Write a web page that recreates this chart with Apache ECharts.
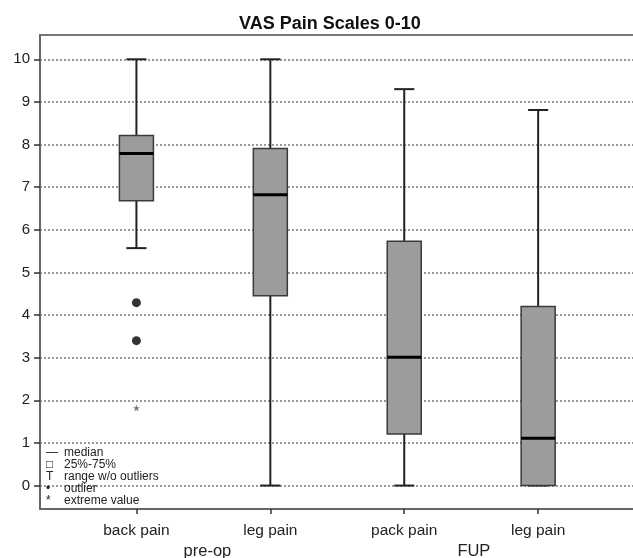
<!DOCTYPE html>
<html>
<head>
<meta charset="utf-8">
<script src="https://cdn.jsdelivr.net/npm/echarts@6/dist/echarts.min.js"></script>
<style>html,body{margin:0;padding:0;background:#fff;}#c{width:633px;height:558px;}</style>
</head>
<body>
<div id="c"></div>
<script>
const categories = ['back pain', 'leg pain', 'pack pain', 'leg pain'];
const groups = ['pre-op', 'FUP'];
const groupPositions = [0.53, 2.52];
const whiskerLow = [5.57, 0, 0, 0];
const q1 = [6.68, 4.45, 1.21, 0];
const median = [7.79, 6.82, 3.01, 1.11];
const q3 = [8.21, 7.91, 5.73, 4.20];
const whiskerHigh = [10, 10, 9.30, 8.81];
const outliers = [[0, 4.29], [0, 3.40]];
const extremes = [[0, 1.82]];
const yTicks = [0, 1, 2, 3, 4, 5, 6, 7, 8, 9, 10];
const catTicks = categories.map((c, i) => i);

const FONT = 'Arial, "Liberation Sans", sans-serif';
const chart = echarts.init(document.getElementById('c'), null, {renderer: 'canvas'});

const boxData = categories.map((c, i) => [i, whiskerLow[i], q1[i], median[i], q3[i], whiskerHigh[i]]);

function renderBox(params, api) {
  const x = api.value(0);
  const band = api.size([1, 0])[0];
  const boxW = band * 0.254;
  const capW = band * 0.15;
  const pLow = api.coord([x, api.value(1)]);
  const pQ1 = api.coord([x, api.value(2)]);
  const pMed = api.coord([x, api.value(3)]);
  const pQ3 = api.coord([x, api.value(4)]);
  const pHigh = api.coord([x, api.value(5)]);
  const cx = pQ1[0];
  const lineStyle = {stroke: '#222', lineWidth: 2};
  return {
    type: 'group',
    children: [
      {type: 'line', shape: {x1: cx, y1: pQ3[1], x2: cx, y2: pHigh[1]}, style: lineStyle},
      {type: 'line', shape: {x1: cx, y1: pQ1[1], x2: cx, y2: pLow[1]}, style: lineStyle},
      {type: 'line', shape: {x1: cx - capW / 2, y1: pHigh[1], x2: cx + capW / 2, y2: pHigh[1]}, style: lineStyle},
      {type: 'line', shape: {x1: cx - capW / 2, y1: pLow[1], x2: cx + capW / 2, y2: pLow[1]}, style: lineStyle},
      {type: 'rect', shape: {x: cx - boxW / 2, y: pQ3[1], width: boxW, height: pQ1[1] - pQ3[1]},
        style: {fill: '#9c9c9c', stroke: '#3a3a3a', lineWidth: 1.5}},
      {type: 'line', shape: {x1: cx - boxW / 2, y1: pMed[1], x2: cx + boxW / 2, y2: pMed[1]},
        style: {stroke: '#000', lineWidth: 3}}
    ]
  };
}

const starPath = 'path://M50,0 L61,35 L98,35 L68,57 L79,91 L50,70 L21,91 L32,57 L2,35 L39,35 Z';

const legendItems = [
  ['—', 'median'],
  ['□', '25%-75%'],
  ['T', 'range w/o outliers'],
  ['•', 'outlier'],
  ['*', 'extreme value']
];

const graphics = [];
legendItems.forEach((it, i) => {
  graphics.push({type: 'text', left: 46, top: 447 + i * 12,
    style: {text: it[0], font: '12px ' + FONT, fill: '#222'}, z: 10});
  graphics.push({type: 'text', left: 64, top: 447 + i * 12,
    style: {text: it[1], font: '12px ' + FONT, fill: '#222'}, z: 10});
});

const option = {
  animation: false,
  backgroundColor: '#fff',
  title: {
    text: 'VAS Pain Scales 0-10',
    left: 234, top: 10,
    textStyle: {fontFamily: FONT, fontSize: 18, fontWeight: 'bold', color: '#111'}
  },
  grid: {left: 40, right: -8, top: 35, bottom: 49, outerBoundsMode: 'none', containLabel: false, show: true, borderColor: '#777', borderWidth: 2, backgroundColor: 'transparent'},
  xAxis: [
    {
      type: 'value', min: -0.72, max: 3.768,
      axisLine: {show: true, onZero: false, lineStyle: {color: '#666', width: 2}},
      axisTick: {show: true, length: 5, customValues: catTicks, lineStyle: {color: '#333', width: 1.5}},
      axisLabel: {customValues: catTicks, formatter: v => categories[Math.round(v)], fontFamily: FONT, fontSize: 15.5, color: '#222', margin: 14},
      splitLine: {show: false}
    },
    {
      type: 'value', min: -0.72, max: 3.768, position: 'bottom', offset: 22,
      axisLine: {show: false, onZero: false},
      axisTick: {show: false},
      axisLabel: {customValues: groupPositions, formatter: v => groups[groupPositions.indexOf(v)], fontFamily: FONT, fontSize: 16.5, color: '#222', margin: 12},
      splitLine: {show: false}
    }
  ],
  yAxis: {
    type: 'value', min: -0.55, max: 10.57,
    axisLine: {show: true, onZero: false, lineStyle: {color: '#666', width: 2}},
    axisTick: {show: true, length: 6, customValues: yTicks, lineStyle: {color: '#333', width: 1.5}},
    axisLabel: {customValues: yTicks, fontFamily: FONT, fontSize: 15, color: '#222', margin: 10},
    splitLine: {show: true, lineStyle: {color: '#777', width: 1.5, type: [2, 2]}}
  },
  graphic: graphics,
  series: [
    {type: 'custom', renderItem: renderBox, data: boxData, encode: {x: 0, y: [1, 2, 3, 4, 5]}, z: 3},
    {type: 'scatter', data: outliers, symbol: 'circle', symbolSize: 9, itemStyle: {color: '#000'}, z: 4},
    {type: 'scatter', data: extremes, symbol: starPath, symbolSize: 7, itemStyle: {color: '#555'}, z: 4}
  ]
};
chart.setOption(option);
</script>
</body>
</html>
